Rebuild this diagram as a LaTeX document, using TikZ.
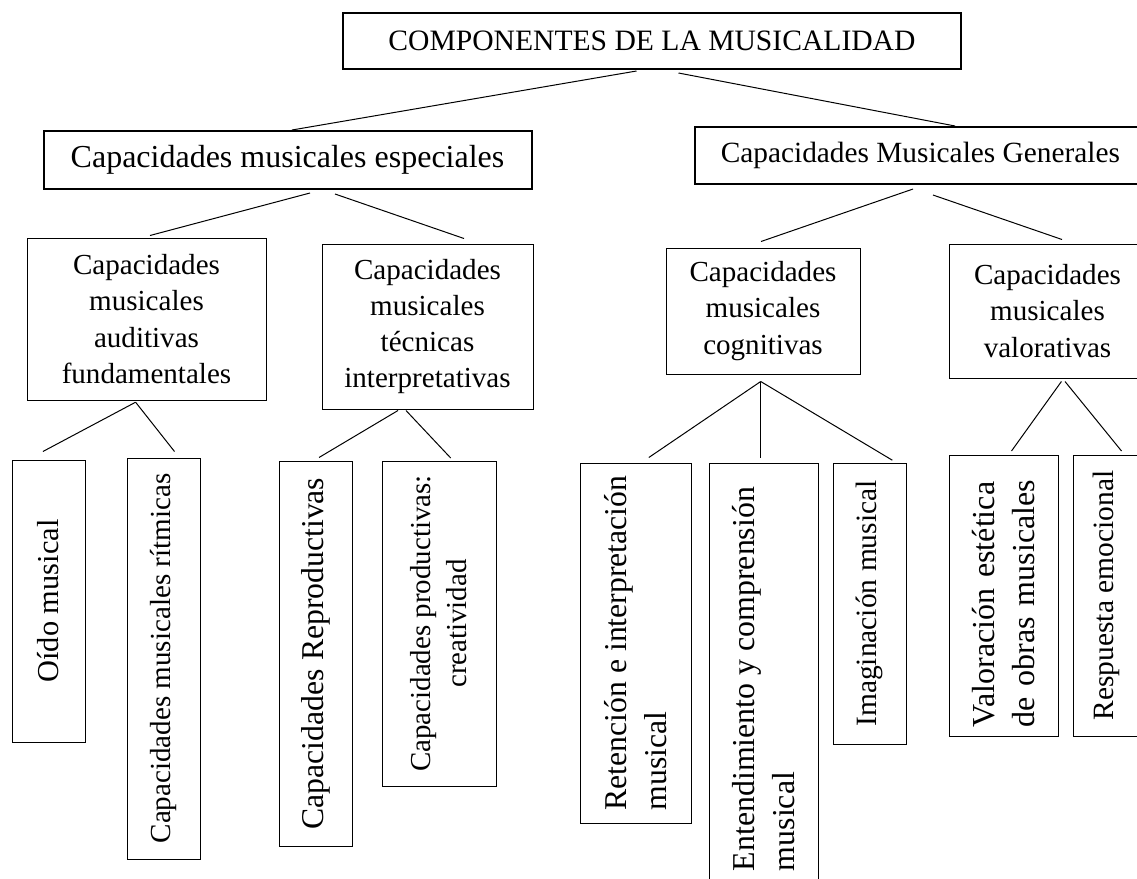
\documentclass[tikz,border=0pt]{standalone}
\usepackage{fontspec}
\setmainfont{Liberation Serif}
\usetikzlibrary{calc}
\newcommand{\fsz}[2]{\fontsize{#1}{#2}\selectfont}
\begin{document}
\begin{tikzpicture}[x = 0.75pt, y = -0.75pt,
        box/.style = {draw, line width = 0.75pt, inner sep = 0pt, align = center},
        headbox/.style = {box, line width = 1.5pt},
        vbox/.style = {box, rotate = 90},
        link/.style = {line width = 0.75pt}]
        \useasboundingbox (0,0) rectangle (1137,878);

        \node [headbox, minimum width = 463.5pt, minimum height = 42pt, font = \fsz{22.2}{27.7}]
        (comp) at (652,41) {COMPONENTES DE LA MUSICALIDAD};

        \node [headbox, minimum width = 366pt, minimum height = 43.5pt, font = \fsz{24}{30}]
        (espec) at (287.5,160) {Capacidades musicales especiales};
        \node [headbox, minimum width = 338.5pt, minimum height = 43pt, font = \fsz{22}{27.5}]
        (gener) at (920.35,155.65) {Capacidades Musicales Generales};

        \node [box, minimum width = 179.25pt, minimum height = 121.5pt, font = \fsz{21.8}{27.2}]
        (audit) at (146.5,319) {Capacidades\\musicales\\auditivas\\fundamentales};
        \node [box, minimum width = 158.25pt, minimum height = 123.75pt, font = \fsz{21.8}{27.2}]
        (tecn) at (427.5,326.5) {Capacidades\\musicales\\técnicas\\interpretativas};
        \node [box, minimum width = 145.5pt, minimum height = 94.5pt, font = \fsz{21.8}{27.2}]
        (cogn) at (763,311) {Capacidades\\musicales\\cognitivas};
        \node [box, minimum width = 147.75pt, minimum height = 100.5pt, font = \fsz{21.8}{27.2}]
        (valor) at (1047.5,311) {Capacidades\\musicales\\valorativas};

        \node [vbox, minimum width = 211.5pt, minimum height = 54.75pt, font = \fsz{22.8}{28.5}]
        (oido) at (48.5,601) {Oído musical};
        \node [vbox, minimum width = 300.75pt, minimum height = 54.75pt, font = \fsz{21.8}{27.2}]
        (ritm) at (163.5,658.5) {Capacidades musicales rítmicas};
        \node [vbox, minimum width = 288.75pt, minimum height = 54.75pt, font = \fsz{23.8}{29.7}]
        (repro) at (315.5,653.5) {Capacidades Reproductivas};
        \node [vbox, minimum width = 243.75pt, minimum height = 85.5pt, font = \fsz{21.7}{27}]
        (produ) at (439,623.5) {Capacidades productivas:\\creatividad};

        \node [vbox, align = left, minimum width = 270pt, minimum height = 83.25pt, font = \fsz{23.8}{30}]
        (reten) at (635.5,643) {Retención e interpretación\\musical};
        \node [vbox, align = left, minimum width = 324pt, minimum height = 81.75pt, font = \fsz{23.9}{30}]
        (enten) at (763.5,679) {Entendimiento y comprensión\\musical};
        \node [vbox, minimum width = 210.75pt, minimum height = 54.75pt, font = \fsz{22.1}{27.6}]
        (imag) at (869.5,603.5) {Imaginación musical};

        \node [vbox, align = left, text width = 197.25pt, inner xsep = 6.75pt, minimum height = 81.75pt, font = \fsz{24}{30}]
        (estet) at (1003.5,595.5) {Valoración estética\\de obras musicales};
        \node [vbox, minimum width = 210.75pt, minimum height = 50.25pt, font = \fsz{22.1}{27.6}]
        (resp) at (1106.5,595.5) {Respuesta emocional};

        \draw [link]
        ($(comp.south)+(-15.5,1)$) -- ($(espec.north)+(4.5,0)$);
        \draw [link]
        ($(comp.south)+(26.5,3)$) -- ($(gener.north)+(34.6,0)$);

        \draw [link]
        ($(espec.south)+(22.5,3)$) -- ($(audit.north)+(3.5,-2)$);
        \draw [link]
        ($(espec.south)+(47.5,4)$) -- ($(tecn.north)+(36.5,-5)$);
        \draw [link]
        ($(gener.south)+(-7.35,3.7)$) -- ($(cogn.north)+(-2,-6)$);
        \draw [link]
        ($(gener.south)+(12.65,9.7)$) -- ($(valor.north)+(14.5,-4)$);

        \draw [link]
        ($(audit.south)+(-10.9,1.7)$) -- ($(oido.east)+(-5.6,-8)$);
        \draw [link]
        ($(audit.south)+(-10.9,1.7)$) -- ($(ritm.east)+(11,-6)$);
        \draw [link]
        ($(tecn.south)+(-29.5,1)$) -- ($(repro.east)+(3.5,-3)$);
        \draw [link]
        ($(tecn.south)+(-21.5,1)$) -- ($(produ.east)+(11.7,-2.5)$);

        \draw [link]
        ($(cogn.south)+(-2.3,7)$) -- ($(reten.east)+(13.3,-5)$);
        \draw [link]
        ($(cogn.south)+(-2.3,7)$) -- ($(enten.east)+(-2.8,-5)$);
        \draw [link]
        ($(cogn.south)+(-2.3,7)$) -- ($(imag.east)+(22.8,-2.3)$);
        \draw [link]
        ($(valor.south)+(13.9,3)$) -- ($(estet.east)+(8,-3.5)$);
        \draw [link]
        ($(valor.south)+(17.5,3)$) -- ($(resp.east)+(15,-3.5)$);
    \end{tikzpicture}
\end{document}
